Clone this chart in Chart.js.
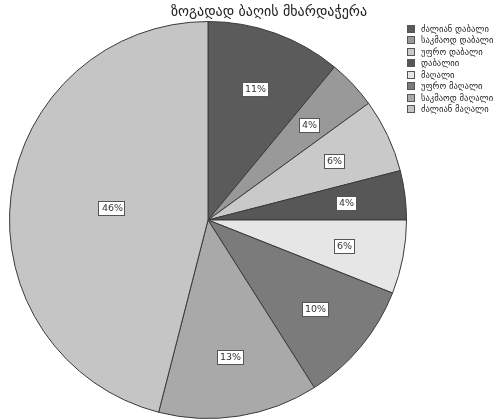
<!DOCTYPE html>
<html><head><meta charset="utf-8">
<script src="https://cdn.jsdelivr.net/npm/chart.js@4/dist/chart.umd.min.js"></script>
<style>
html,body{margin:0;padding:0;background:#fff;}
#wrap{position:relative;width:501px;height:420px;overflow:hidden;}
#title{position:absolute;left:69px;width:400px;top:1px;text-align:center;font-family:"DejaVu Sans";font-size:14px;line-height:20px;color:#222;white-space:nowrap;}
#legend{position:absolute;left:407px;top:23px;font-family:"DejaVu Sans";font-size:8.6px;color:#222;}
.item{height:11.5px;display:flex;align-items:center;white-space:nowrap;}
.box{width:6px;height:6px;border:1px solid #555;margin-right:6px;flex:none;}
canvas{position:absolute;left:0;top:0;}
</style></head>
<body>
<div id="wrap">
<canvas id="c" width="501" height="420"></canvas>
<div id="title"></div>
<div id="legend"></div>
</div>
<script>
const chartTitle = "ზოგადად ბაღის მხარდაჭერა";
const categories = ["ძალიან დაბალი","საკმაოდ დაბალი","უფრო დაბალი","დაბალიი","მაღალი","უფრო მაღალი","საკმაოდ მაღალი","ძალიან მაღალი"];
const percentages = [11, 4, 6, 4, 6, 10, 13, 46];
const sliceColors = ["#5b5b5b","#999999","#c9c9c9","#575757","#e6e6e6","#7b7b7b","#a9a9a9","#c5c5c5"];

document.getElementById('title').textContent = chartTitle;
const lg = document.getElementById('legend');
categories.forEach((c,i)=>{
  const d=document.createElement('div');d.className='item';
  const b=document.createElement('span');b.className='box';b.style.background=sliceColors[i];
  const t=document.createElement('span');t.textContent=c;
  d.appendChild(b);d.appendChild(t);lg.appendChild(d);
});

const labelPlugin = {
  id:'pctLabels',
  afterDatasetsDraw(chart){
    const ctx=chart.ctx;
    const meta=chart.getDatasetMeta(0);
    ctx.save();
    ctx.font='9.5px "DejaVu Sans"';
    ctx.textAlign='center';ctx.textBaseline='middle';
    meta.data.forEach((arc,i)=>{
      const p=arc.getProps(['x','y','startAngle','endAngle','outerRadius'],true);
      const mid=(p.startAngle+p.endAngle)/2;
      const f=percentages[i]>30?0.49:0.7;
      const x=p.x+Math.cos(mid)*p.outerRadius*f;
      const y=p.y+Math.sin(mid)*p.outerRadius*f;
      const txt=percentages[i]+'%';
      const w=ctx.measureText(txt).width+5, h=14;
      ctx.fillStyle='#fff';
      ctx.fillRect(Math.round(x-w/2)+0.5,Math.round(y-h/2)+0.5,Math.round(w),h);
      ctx.strokeStyle='#555';ctx.lineWidth=1;
      ctx.strokeRect(Math.round(x-w/2)+0.5,Math.round(y-h/2)+0.5,Math.round(w),h);
      ctx.fillStyle='#333';
      ctx.fillText(txt,Math.round(x)+0.5,Math.round(y)+1);
    });
    ctx.restore();
  }
};

new Chart(document.getElementById('c'),{
  type:'pie',
  data:{labels:categories,datasets:[{data:percentages,backgroundColor:sliceColors,borderColor:'#3a3a3a',borderWidth:1}]},
  options:{
    responsive:false,animation:false,
    layout:{padding:{left:9,right:94,top:21,bottom:1}},
    plugins:{legend:{display:false},title:{display:false},tooltip:{enabled:false}}
  },
  plugins:[labelPlugin]
});
</script>
</body></html>
